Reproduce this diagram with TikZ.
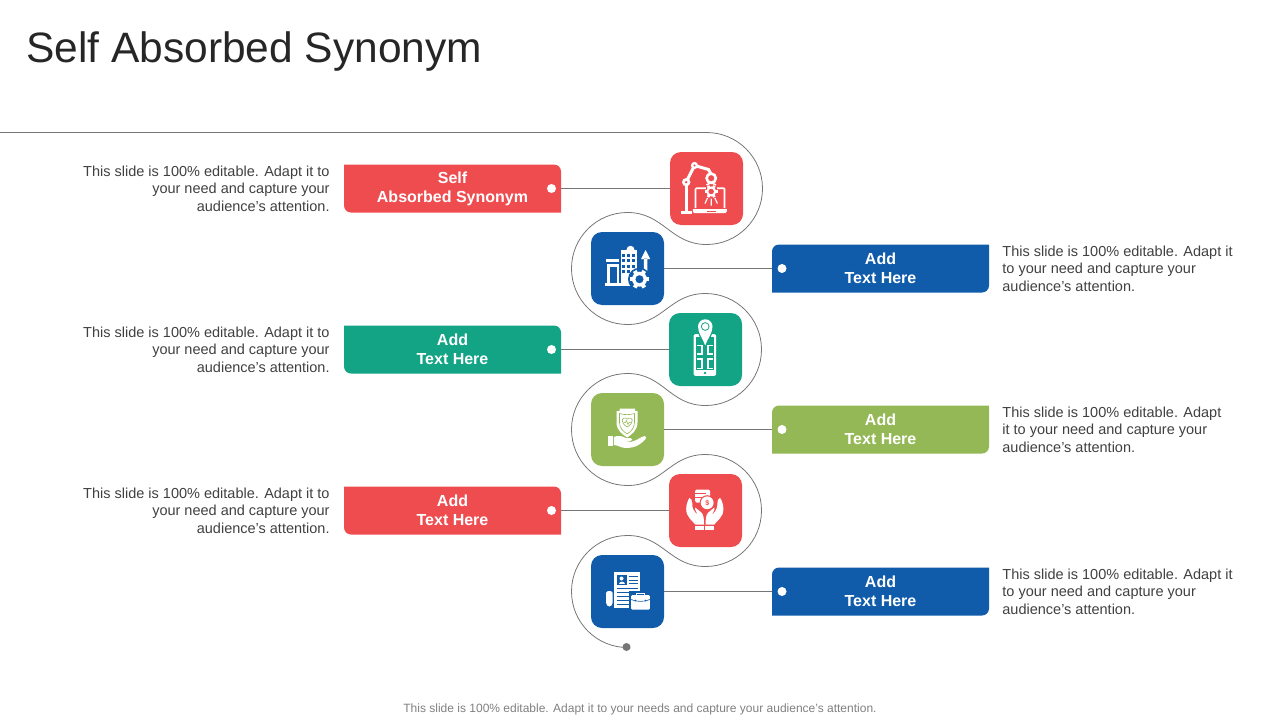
\documentclass[tikz,border=0pt]{standalone}
\usepackage{fontspec}
\setmainfont{Liberation Sans}
\usetikzlibrary{positioning}
\definecolor{tagred}{RGB}{239,76,80}
\definecolor{tagblue}{RGB}{16,92,170}
\definecolor{tagteal}{RGB}{18,164,133}
\definecolor{tagolive}{RGB}{148,184,85}
\definecolor{trackgray}{RGB}{118,118,118}
\definecolor{notegray}{RGB}{64,64,64}
\tikzset{
    x=1pt, y=-1pt,
    iconbox/.style={minimum size=73pt, inner sep=0pt, rounded corners=11pt},
    tagbox/.style={minimum width=217pt, minimum height=48pt, inner sep=0pt, align=center, text=white,
        font=\bfseries\fontsize{16}{19}\selectfont, execute at begin node={\rule{0pt}{17.5pt}}},
    lefttag/.style={tagbox, path picture={
        \fill[#1] (path picture bounding box.north west) -- ([xshift=-7pt]path picture bounding box.north east)
            arc (90:0:7pt) -- (path picture bounding box.south east)
            -- ([xshift=7pt]path picture bounding box.south west) arc (270:180:7pt) -- cycle;}},
    righttag/.style={tagbox, path picture={
        \fill[#1] ([xshift=7pt]path picture bounding box.north west) -- (path picture bounding box.north east)
            -- ([yshift=7pt]path picture bounding box.south east) arc (0:-90:7pt)
            -- (path picture bounding box.south west) -- ([yshift=-7pt]path picture bounding box.north west)
            arc (180:90:7pt) -- cycle;}},
    tagdot/.style={circle, fill=white, minimum size=9pt, inner sep=0pt},
    trackdot/.style={circle, fill=trackgray, minimum size=8pt, inner sep=0pt},
    noteleft/.style={align=right, inner sep=0pt, yshift=-0.3pt, text=notegray, font=\fontsize{14.5}{17.6}\selectfont},
    noteright/.style={align=left, inner sep=0pt, yshift=-0.3pt, text=notegray, font=\fontsize{14.5}{17.6}\selectfont},
    trackline/.style={draw=trackgray, line width=0.8pt},
    linkline/.style={draw=trackgray, line width=1pt},
}
\newcommand{\gearmark}[4]{%
    \begin{scope}[shift={(#1,#2)}]
        \fill[white] (0,0) circle (0.78*#3);
        \foreach \a in {0,60,...,300}
            \draw[white, line width=0.42*#3] (\a:0.6*#3) -- (\a:#3);
        \fill[#4] (0,0) circle (0.42*#3);
    \end{scope}}

\begin{document}
\begin{tikzpicture}
        \useasboundingbox (0,0) rectangle (1280,720);

        \node[anchor=west, inner sep=0pt, text=black!85, font=\fontsize{42.5}{50}\selectfont] (title) at (26,52) {Self Absorbed Synonym};

        \node[iconbox, fill=tagred] (robot) at (706.5,188.5) {};
        \node[iconbox, fill=tagblue, left of=robot, node distance=79pt, yshift=-80pt] (city) {};
        \node[iconbox, fill=tagteal, right of=city, node distance=78pt, yshift=-81pt] (phone) {};
        \node[iconbox, fill=tagolive, left of=phone, node distance=78pt, yshift=-80pt] (shield) {};
        \node[iconbox, fill=tagred, right of=shield, node distance=78pt, yshift=-81pt] (coins) {};
        \node[iconbox, fill=tagblue, left of=coins, node distance=78pt, yshift=-81pt] (resume) {};

        \node[lefttag=tagred, left of=robot, node distance=254pt] (tagone) {Self\\Absorbed Synonym};
        \node[righttag=tagblue, right of=city, node distance=253pt] (tagtwo) {Add\\Text Here};
        \node[lefttag=tagteal, left of=phone, node distance=253pt] (tagthree) {Add\\Text Here};
        \node[righttag=tagolive, right of=shield, node distance=253pt] (tagfour) {Add\\Text Here};
        \node[lefttag=tagred, left of=coins, node distance=253pt] (tagfive) {Add\\Text Here};
        \node[righttag=tagblue, right of=resume, node distance=253pt] (tagsix) {Add\\Text Here};

        \node[tagdot, right of=tagone, node distance=99pt] (dotone) {};
        \node[tagdot, left of=tagtwo, node distance=98.5pt] (dottwo) {};
        \node[tagdot, right of=tagthree, node distance=99pt] (dotthree) {};
        \node[tagdot, left of=tagfour, node distance=98.5pt] (dotfour) {};
        \node[tagdot, right of=tagfive, node distance=99pt] (dotfive) {};
        \node[tagdot, left of=tagsix, node distance=98.5pt] (dotsix) {};

        \node[noteleft, left=14pt of tagone] (noteone) {This slide is 100\% editable. Adapt it to\\your need and capture your\\audience’s attention.};
        \node[noteright, right=13pt of tagtwo] (notetwo) {This slide is 100\% editable. Adapt it\\to your need and capture your\\audience’s attention.};
        \node[noteleft, left=14pt of tagthree] (notethree) {This slide is 100\% editable. Adapt it to\\your need and capture your\\audience’s attention.};
        \node[noteright, right=13pt of tagfour] (notefour) {This slide is 100\% editable. Adapt\\it to your need and capture your\\audience’s attention.};
        \node[noteleft, left=14pt of tagfive] (notefive) {This slide is 100\% editable. Adapt it to\\your need and capture your\\audience’s attention.};
        \node[noteright, right=13pt of tagsix] (notesix) {This slide is 100\% editable. Adapt it\\to your need and capture your\\audience’s attention.};

        \node[inner sep=0pt, text=black!50, font=\fontsize{12}{14}\selectfont] (footer) at (640,709.3) {This slide is 100\% editable. Adapt it to your needs and capture your audience's attention.};

        \coordinate (trackstart) at (0,132.5);
        \node[trackdot] (trackend) at (626.5,647) {};

        \draw[trackline] (trackstart) -- ([yshift=56pt]robot.center) arc (90:-90:56pt)
            .. controls +(-36pt,0pt) and ([xshift=36pt,yshift=56pt]city.center) .. ([yshift=56pt]city.center) arc (90:270:56pt)
            .. controls +(36pt,0pt) and ([xshift=-36pt,yshift=56pt]phone.center) .. ([yshift=56pt]phone.center) arc (90:-90:56pt)
            .. controls +(-36pt,0pt) and ([xshift=36pt,yshift=56pt]shield.center) .. ([yshift=56pt]shield.center) arc (90:270:56pt)
            .. controls +(36pt,0pt) and ([xshift=-36pt,yshift=56pt]coins.center) .. ([yshift=56pt]coins.center) arc (90:-90:56pt)
            .. controls +(-36pt,0pt) and ([xshift=36pt,yshift=56pt]resume.center) .. ([yshift=56pt]resume.center) arc (90:270:56pt) -- (trackend);

        \draw[linkline] (tagone) -- (robot);
        \draw[linkline] (city) -- (tagtwo);
        \draw[linkline] (tagthree) -- (phone);
        \draw[linkline] (shield) -- (tagfour);
        \draw[linkline] (tagfive) -- (coins);
        \draw[linkline] (resume) -- (tagsix);

        % robot arm over a laptop
        \begin{scope}[shift={(robot.center)}]
            \draw[white, line width=1.7pt, rounded corners=1pt] (-11,19.7) -- (-11,-0.3) -- (18,-0.3) -- (18,19.7);
            \fill[white] (-13.7,20.5) -- (20.3,20.5) -- (20.3,23) -- (19,24.5) -- (-12.5,24.5) -- (-13.7,23) -- cycle;
            \fill[tagred] (0,22) rectangle (9,23);
            \draw[white, line width=3.2pt] (-20.3,-6) -- (-20.3,23);
            \fill[white] (-26,22) rectangle (-14.5,25);
            \draw[white, line width=3pt] (-20.3,-6.3) -- (-12,-23) -- (2,-19) -- (4.7,-14);
            \fill[white] (-20.3,-6.3) circle (4.2);
            \fill[tagred] (-20.3,-6.3) circle (1.3);
            \fill[white] (-12,-23) circle (3.6);
            \fill[tagred] (-12,-23) circle (1.2);
            \draw[white, line width=2.6pt] (4.7,-10.3) circle (4.6);
            \draw[white, line width=1.6pt] (0,-3.5) -- (4.7,-6) -- (9.4,-3.5);
            \fill[tagred] (-1,-3) rectangle (10.4,9.5);
            \gearmark{4.7}{3}{6.5}{tagred}
            \draw[white, line width=1.2pt] (4.7,10) -- (4.7,17) (1,9.5) -- (-1.5,15) (8.4,9.5) -- (10.9,15);
        \end{scope}

        % buildings with arrow and gear
        \begin{scope}[shift={(city.center)}]
            \fill[white] (-7,-18.7) rectangle (9.7,14.7);
            \fill[white] (3,-18.7) circle (4);
            \foreach \cx in {-4,1.2,6.4}
                \foreach \cy in {-15,-9.5,-4,1.5}
                    \fill[tagblue] (\cx-1.5,\cy) rectangle (\cx+1.5,\cy+3.4);
            \fill[tagblue] (-8.2,-9.5) rectangle (-6.8,14.7);
            \fill[white] (-21.5,-9.5) rectangle (-8.2,-5.5);
            \fill[white] (-20.3,-5.5) rectangle (-8.2,14.7);
            \fill[tagblue] (-21.5,-6.2) rectangle (-8.2,-5);
            \fill[tagblue] (-17.5,-1.5) rectangle (-11,14.7);
            \fill[white] (-23,14.7) rectangle (6,17);
            \fill[white] (16.4,-10) rectangle (19.8,8) (13.5,-9.5) -- (18.1,-18.5) -- (22.7,-9.5) -- cycle;
            \fill[tagblue] (12,10.7) circle (11.5);
            \gearmark{12}{10.7}{9.6}{tagblue}
        \end{scope}

        % phone with a map and a pin
        \begin{scope}[shift={(phone.center)}]
            \fill[white, rounded corners=2pt] (-12,-15.3) rectangle (10.7,26.3);
            \fill[tagteal] (-10,-12.5) rectangle (8.7,20.5);
            \draw[white, line width=1.1pt] (-9,-4) -- (-3.5,-4) -- (-3.5,4.5) -- (-9,4.5)
                (7.7,-4) -- (2.5,-4) -- (2.5,4.5) -- (7.7,4.5)
                (-9,9.5) -- (-3.5,9.5) -- (-3.5,19) -- (-9,19)
                (7.7,9.5) -- (2.5,9.5) -- (2.5,19) -- (7.7,19);
            \fill[tagteal] (-0.5,23.5) circle (1.4);
            \fill[tagteal] (-8.5,-23) .. controls (-8.5,-15) and (-3.5,-9) .. (-0.3,-1) .. controls (2.9,-9) and (8,-15) .. (8,-23) arc (0:180:8.25pt) -- cycle;
            \fill[white] (-7.5,-23) .. controls (-7.5,-16) and (-2.6,-11) .. (-0.3,-4) .. controls (2,-11) and (7,-16) .. (7,-23) arc (0:180:7.25pt) -- cycle;
            \fill[tagteal] (-0.3,-23) circle (4.3);
            \fill[white] (-0.3,-23) circle (3.3);
        \end{scope}

        % shield above an open hand
        \begin{scope}[shift={(shield.center)}]
            \fill[white] (-8,-21) -- (7.5,-21) -- (7.5,-18.5) -- (10,-18.5) -- (10,-7) .. controls (10,1) and (4,5) .. (-0.3,8)
                .. controls (-5,5) and (-11,1) .. (-11,-7) -- (-11,-18.5) -- (-8,-18.5) -- cycle;
            \draw[tagolive, line width=0.6pt] (-8,-16) .. controls (-4,-14.5) and (3,-14.5) .. (7,-16) -- (7,-7) .. controls (7,-1) and (3,2) .. (-0.3,4.5)
                .. controls (-4,2) and (-8,-1) .. (-8,-7) -- cycle;
            \draw[tagolive, line width=0.6pt] (-0.3,-2.5) .. controls (-8,-7) and (-6,-14) .. (-0.3,-10.5) .. controls (5.5,-14) and (7.5,-7) .. (-0.3,-2.5);
            \draw[tagolive, line width=0.5pt] (-4,-7) -- (-2,-7) -- (-1,-9) -- (0.5,-5) -- (1.5,-7) -- (3.5,-7);
            \fill[white] (-19.7,6) rectangle (-14.7,16.7);
            \fill[white] (-13.7,7.5) .. controls (-9,5.5) and (-5,6.5) .. (-2,8.5) -- (3,8.5) .. controls (5,8.5) and (5,11.5) .. (3,11.5) -- (-3,11.5)
                -- (3,12.5) .. controls (9,11.5) and (13,7.5) .. (17,6.5) .. controls (19,6.5) and (19,8.5) .. (18,9.5)
                .. controls (14,14) and (9,18.5) .. (-2,18.5) .. controls (-6,18.5) and (-10,15.5) .. (-13.7,15.5) -- cycle;
        \end{scope}

        % two hands holding coins
        \begin{scope}[shift={(coins.center)}]
            \foreach \sx in {1,-1} {
                \begin{scope}[xshift=-0.7pt, xscale=\sx]
                    \fill[white] (15.3,-12.7) .. controls (19.5,-6) and (20,3) .. (15,8) .. controls (13,10.5) and (11,12) .. (9.5,14) -- (0.8,14)
                        .. controls (0.8,9) and (1,5) .. (3,2.5) .. controls (5,0) and (8,-1) .. (9.5,-3) .. controls (10.5,-1) and (8,2) .. (7,4.5)
                        .. controls (11,1) and (13,-3) .. (12.5,-7) .. controls (12.5,-9.5) and (13.5,-12) .. (15.3,-12.7) -- cycle;
                    \fill[white] (0.6,15) rectangle (9.5,19);
                \end{scope}
            }
            \fill[white, rounded corners=1.5pt] (-10.5,-21) rectangle (4.5,-8);
            \draw[tagred, line width=0.6pt] (-10.5,-17) -- (0,-17) (-10.5,-13) -- (-3,-13);
            \fill[tagred] (1.7,-7.7) circle (7.6);
            \fill[white] (1.7,-7.7) circle (6.4);
            \node[text=tagred, inner sep=0pt, font=\bfseries\fontsize{7}{7}\selectfont] (coinmark) at (1.7,-7.7) {\$};
        \end{scope}

        % resume with a briefcase
        \begin{scope}[shift={(resume.center)}]
            \fill[white, rounded corners=1.5pt] (-21.3,-0.3) -- (-15,-0.3) -- (-15,13) -- (-17,15) -- (-19.5,15) -- (-21.3,13) -- cycle;
            \fill[white] (-13.7,-19.7) rectangle (12.3,16.3);
            \fill[tagblue] (-11,-16.3) rectangle (-1,-6.3);
            \fill[white] (-6,-13) circle (2);
            \fill[white] (-9,-7.5) .. controls (-9,-11) and (-3,-11) .. (-3,-7.5) -- cycle;
            \foreach \ly in {-15,-11.5,-8.5}
                \draw[tagblue, line width=0.8pt] (1,\ly) -- (10.5,\ly);
            \foreach \ly in {-3.5,0.5,4.5,8.5,12.5}
                \draw[tagblue, line width=0.8pt] (-11,\ly) -- (10.5,\ly);
            \fill[tagblue] (1.7,-0.5) rectangle (24,20);
            \draw[white, line width=1pt] (9,4) -- (9,1.5) -- (17,1.5) -- (17,4);
            \fill[white, rounded corners=1pt] (3.7,3.7) rectangle (22.3,18);
            \draw[tagblue, line width=0.6pt] (3.7,8) .. controls (8,10.5) and (18,10.5) .. (22.3,8);
            \fill[tagblue] (8,9) circle (0.8) (18,9) circle (0.8);
        \end{scope}
\end{tikzpicture}
\end{document}
